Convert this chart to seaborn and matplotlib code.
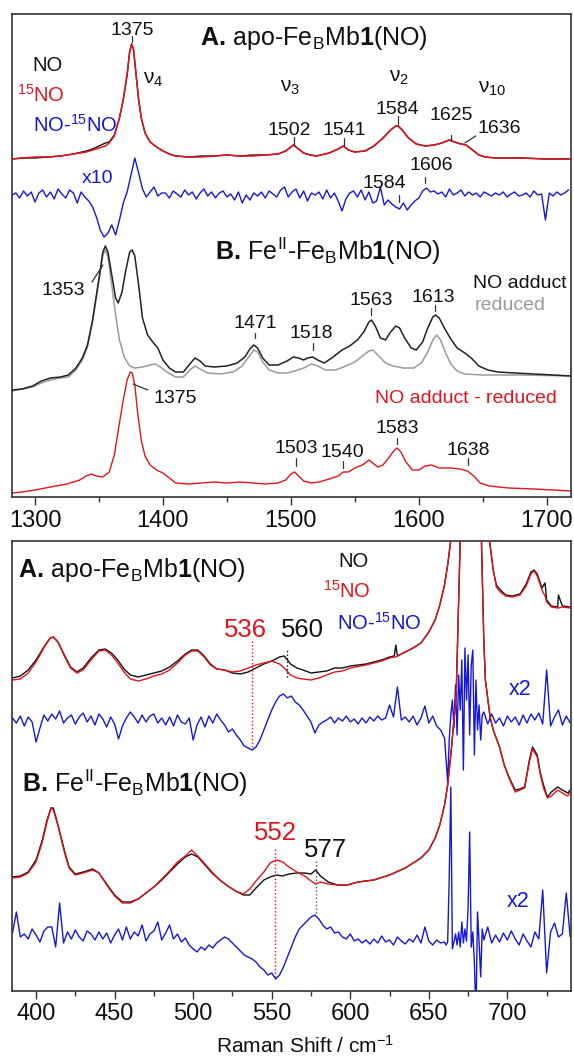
import numpy as np
import matplotlib
matplotlib.use("Agg")
import matplotlib.pyplot as plt
import seaborn as sns

sns.set_theme(style="white")
plt.rcParams["font.family"] = ["Liberation Sans", "DejaVu Sans"]
plt.rcParams["mathtext.fontset"] = "custom"
plt.rcParams["mathtext.rm"] = "Liberation Sans"
plt.rcParams["mathtext.it"] = "Liberation Sans:italic"
plt.rcParams["mathtext.bf"] = "Liberation Sans:bold"

RED = "#e2141e"
BLUE = "#1717d8"
GRAY = "#9a9a9a"
BLACK = "#111111"

# ---------------- top panel: high-frequency region (cm-1) ----------------
# A. apo-FeBMb1(NO): NO (black) and 15NO (red), relative intensity
topA_x = [1282, 1290, 1300, 1310, 1320, 1330, 1340, 1345, 1350, 1355,
          1358, 1362, 1366, 1369, 1372, 1374, 1375.5, 1377, 1379, 1381,
          1383, 1386, 1390, 1395, 1400, 1405, 1410, 1420, 1430, 1440,
          1450, 1460, 1470, 1480, 1490, 1496, 1500, 1502, 1505, 1510,
          1515, 1520, 1530, 1537, 1541, 1545, 1550, 1558, 1565, 1572,
          1578, 1582, 1584, 1587, 1592, 1598, 1605, 1612, 1618, 1624,
          1628, 1633, 1637, 1642, 1647, 1652, 1660, 1680, 1700, 1719]
topA_NO = [-1, 0, 0, 1, 2, 4, 7, 9, 12, 15,
           16, 23, 40, 58, 83, 106, 114, 108, 83, 58,
           40, 25, 16, 11, 7, 4, 2, 1, 2, 2,
           3, 2, 3, 3, 4, 7, 11, 13, 10, 5,
           3, 2, 5, 9, 12, 8, 6, 7, 12, 20,
           28, 32, 32, 28, 20, 14, 12, 13, 15, 18,
           16, 14, 13, 8, 3, 1, 0, 0, -1, -1]
topA_15NO = [-1, 0, 1, 1, 2, 4, 6, 8, 10, 12,
             15, 22, 40, 59, 84, 107, 114, 109, 84, 59,
             41, 25, 16, 11, 7, 4, 2, 1, 1, 2,
             3, 2, 2, 3, 4, 7, 11, 13, 10, 5,
             3, 2, 5, 9, 12, 8, 6, 7, 12, 20,
             28, 32, 32, 28, 20, 14, 12, 13, 15, 18,
             16, 14, 13, 8, 3, 1, 0, 0, -1, -1]
# NO - 15NO difference (x10), sampled every 3 cm-1 from 1282
topA_diff = [0, 2, -3, 4, -1, 3, -7, 2, 5, -2,
             3, -4, 6, 1, -3, 5, 2, -8, 3, -2,
             -6, -12, -22, -35, -42, -38, -30, -40, -25, -8,
             3, 20, 37, 22, 6, -2, 3, 8, -1, 2,
             2, -3, 4, 1, -2, 5, 0, 3, -4, 2,
             6, -1, 3, -3, 2, 4, -2, 1, -5, 3,
             -8, 0, -5, 2, -1, 3, -3, 4, 1, -2,
             5, 8, -2, 3, 6, -3, 4, -6, 2, 0,
             3, -4, 5, -3, 2, -6, -16, -4, 2, 4,
             -2, 5, -5, 3, -8, -6, 8, -10, -5, -9,
             -12, -14, -8, -15, -10, -6, -3, 4, 7, 3,
             4, 1, 3, -2, 6, 0, 2, 5, -1, 3,
             0, 2, -2, 3, 1, -1, 2, 0, 3, -2,
             1, 3, -1, 0, 2, -2, 4, 0, 1, -25,
             2, -1, 3, 0, 2, 5]

# B. FeII-FeBMb1(NO): NO adduct (black) and reduced (gray)
topB_adduct_x = [1282, 1290, 1298, 1305, 1312, 1320, 1326, 1332, 1337, 1341,
                 1345, 1348, 1351, 1353, 1355, 1357, 1360, 1363, 1365, 1368,
                 1371, 1374, 1376, 1378, 1381, 1384, 1388, 1392, 1396, 1400,
                 1405, 1410, 1416, 1421, 1425, 1429, 1433, 1440, 1450, 1458,
                 1464, 1468, 1471, 1474, 1478, 1483, 1490, 1497, 1502, 1506,
                 1510, 1513, 1517, 1521, 1526, 1532, 1540, 1546, 1552, 1557,
                 1561, 1563, 1566, 1570, 1574, 1578, 1582, 1585, 1589, 1594,
                 1598, 1603, 1607, 1611, 1613, 1616, 1620, 1625, 1630, 1636,
                 1641, 1647, 1654, 1662, 1675, 1690, 1705, 1719]
topB_adduct = [0, 1, 4, 9, 12, 13, 15, 22, 32, 45,
               70, 95, 120, 138, 144, 138, 115, 92, 87, 98,
               120, 138, 140, 134, 105, 72, 55, 48, 42, 30,
               22, 18, 18, 26, 32, 29, 24, 23, 24, 27,
               33, 41, 45, 42, 32, 25, 25, 29, 33, 32,
               30, 32, 33, 30, 27, 32, 40, 44, 50, 58,
               68, 70, 64, 52, 50, 58, 64, 62, 52, 42,
               40, 48, 62, 73, 75, 72, 62, 51, 42, 37,
               32, 24, 20, 18, 17, 16, 15, 14]
topB_reduced_x = [1282, 1298, 1305, 1312, 1320, 1326, 1332, 1337, 1341, 1345,
                  1348, 1351, 1353, 1355, 1357, 1360, 1363, 1366, 1370, 1374,
                  1378, 1384, 1390, 1394, 1398, 1403, 1410, 1416, 1421, 1425,
                  1429, 1435, 1445, 1455, 1462, 1467, 1471, 1474, 1478, 1483,
                  1490, 1497, 1503, 1510, 1516, 1521, 1527, 1535, 1543, 1550,
                  1556, 1561, 1564, 1568, 1574, 1580, 1588, 1596, 1602, 1607,
                  1611, 1614, 1617, 1621, 1625, 1630, 1636, 1650, 1680, 1719]
topB_reduced = [-1, 3, 7, 10, 12, 13, 20, 30, 43, 68,
                93, 118, 135, 140, 133, 105, 75, 50, 32, 24,
                22, 23, 25, 26, 23, 18, 13, 13, 20, 24,
                21, 17, 16, 18, 24, 33, 40, 38, 28, 20,
                17, 17, 19, 22, 26, 24, 20, 20, 24, 28,
                34, 39, 40, 35, 27, 24, 22, 22, 27, 38,
                50, 55, 50, 37, 26, 19, 16, 15, 15, 14]
# NO adduct - reduced (red)
topB_diff_x = [1282, 1290, 1300, 1312, 1325, 1335, 1340, 1344, 1348, 1353,
               1358, 1362, 1366, 1369, 1372, 1374.5, 1376, 1378, 1380, 1383,
               1386, 1390, 1395, 1400, 1405, 1410, 1420, 1430, 1440, 1450,
               1460, 1470, 1480, 1490, 1496, 1500, 1503, 1506, 1510, 1516,
               1522, 1530, 1537, 1541, 1545, 1550, 1556, 1561, 1564, 1568,
               1572, 1577, 1581, 1583, 1586, 1590, 1595, 1600, 1605, 1610,
               1616, 1625, 1632, 1638, 1643, 1648, 1655, 1670, 1690, 1719]
topB_diff = [0, 1, 3, 6, 9, 13, 17, 19, 17, 16,
             21, 38, 70, 93, 113, 121, 120, 108, 83, 53,
             37, 28, 23, 20, 15, 10, 9, 10, 11, 10,
             11, 10, 9, 10, 13, 19, 21, 17, 12, 10,
             11, 14, 17, 21, 21, 25, 28, 33, 30, 26,
             28, 36, 43, 45, 41, 31, 23, 23, 27, 28,
             25, 25, 24, 22, 17, 10, 7, 5, 4, 2]

# ---------------- bottom panel: low-frequency region (cm-1) ----------------
botA_x = [385, 390, 395, 400, 405, 409, 411, 414, 418, 422,
          426, 430, 435, 440, 444, 448, 452, 456, 460, 465,
          470, 475, 480, 485, 490, 495, 499, 503, 507, 511,
          515, 520, 525, 530, 535, 540, 545, 550, 555, 558,
          562, 566, 570, 575, 580, 585, 590, 595, 600, 610,
          620, 625, 628, 629, 630, 635, 640, 645, 650, 654,
          657, 660, 662, 664, 666, 669, 673, 677, 681, 685,
          687, 689, 691, 693, 695.5, 699, 703, 708, 712, 715,
          717, 719, 722, 724, 725, 728, 732, 732.5, 735, 740]
botA_NO = [0, 2, 8, 18, 31, 40, 41, 36, 23, 11,
           6, 10, 20, 28, 29, 25, 18, 9, 3, 1,
           3, 5, 7, 11, 17, 24, 28, 28, 22, 14,
           9, 8, 5, 4, 6, 10, 14, 17, 21, 22,
           14, 10, 8, 5, 6, 7, 10, 10, 12, 14,
           18, 21, 22, 33, 22, 26, 30, 35, 46, 58,
           73, 93, 113, 138, 168, 218, 278, 278, 228, 178,
           153, 133, 108, 93, 88, 83, 82, 84, 94, 106,
           108, 104, 90, 95, 78, 72, 71, 83, 72, 71]
botA_15NO = [-2, -1, 5, 16, 30, 40, 41, 36, 22, 10,
             5, 8, 18, 27, 28, 23, 15, 6, -1, -3,
             -1, 2, 4, 8, 15, 23, 27, 27, 21, 13,
             9, 8, 6, 7, 10, 13, 15, 17, 14, 10,
             3, 0, -1, -2, 0, 3, 6, 7, 10, 13,
             17, 20, 21, 21, 22, 26, 30, 35, 46, 58,
             73, 93, 113, 138, 168, 218, 278, 278, 228, 178,
             153, 133, 108, 91, 86, 82, 81, 83, 92, 104,
             107, 102, 88, 82, 76, 71, 70, 70, 71, 70]
botB_x = [385, 390, 395, 400, 404, 407, 409.5, 411, 414, 418,
          421, 425, 430, 436, 440, 445, 450, 455, 460, 465,
          470, 475, 480, 485, 490, 495, 499, 503, 507, 512,
          517, 522, 527, 532, 536, 540, 545, 549, 553, 557,
          561, 566, 571, 575, 578, 581, 586, 592, 598, 605,
          615, 625, 635, 645, 650, 654, 657, 660, 662, 664,
          666, 667.5, 669, 671, 675, 679, 682, 683.5, 685, 686,
          689, 691, 695, 698, 701, 705, 708, 711, 714, 716,
          719, 721, 723, 725.5, 728, 732, 735, 738.5, 740]
botB_NO = [0, 1, 5, 17, 37, 57, 69, 69, 52, 27,
           10, 3, 5, 8, 4, -7, -18, -25, -25, -22,
           -16, -10, -3, 5, 13, 20, 23, 20, 13, 4,
           -3, -9, -14, -18, -18, -11, -3, 0, 2, 1,
           3, 4, 4, 3, 7, 1, -5, -8, -8, -5,
           -3, 2, 9, 19, 27, 39, 52, 72, 92, 122,
           157, 187, 277, 397, 497, 497, 397, 336, 237, 197,
           160, 147, 130, 112, 100, 87, 88, 90, 117, 130,
           122, 104, 92, 80, 85, 90, 87, 84, 87]
botB_15NO = [-1, 0, 4, 15, 35, 55, 69, 67, 51, 25,
             9, 2, 4, 7, 4, -8, -19, -26, -26, -22,
             -16, -10, -2, 6, 15, 21, 27, 21, 14, 5,
             -3, -9, -14, -17, -12, -4, 5, 14, 17, 15,
             10, 5, 1, -4, -7, -5, -7, -8, -8, -5,
             -3, 2, 9, 19, 27, 39, 52, 72, 92, 122,
             157, 187, 277, 397, 497, 497, 397, 336, 237, 197,
             160, 147, 130, 112, 99, 85, 87, 89, 115, 128,
             120, 102, 89, 79, 81, 87, 84, 81, 85]
# NO - 15NO differences (x2): 385-660 every 2.5, 661-684 every 1, 685-740 every 2.5
botA_diff = [2, -3, 4, -6, 3, -2, -22, -8, 5, -1,
             6, 1, 9, -3, 2, 5, -4, 3, 7, -2,
             4, -5, 6, 1, -7, 3, -4, -19, -6, 2,
             8, 3, -3, 5, -2, 4, 6, -3, 2, -5,
             3, -6, 5, -2, -4, 2, -20, -5, 3, -7,
             4, -3, 6, 0, -5, -12, -9, -15, -20, -26,
             -28, -30, -27, -20, -10, 0, 10, 18, 24, 26,
             22, 24, 18, 15, 10, 4, -2, -13, -5, -2,
             0, 3, -3, 2, -1, 4, -2, 1, -4, 2,
             -3, 3, -1, 4, 0, 2, 15, 3, 33, 0,
             3, -2, 4, -5, 2, 14, -3, 4, -6, -10,
             -18,
             -40, -62, -20, 5, 20, -8, 35, -15, 45, 10, 60, -50,
             72, 20, 65, -15, 55, 70, -35, 40, -10, 15, -20, 5,
             8, -4, 6, -3, 2, -6, 4, -2, 3, -5, 5, -3, 6, 0, 7, -4,
             50, -6, 3, 10, -5, 4, -3]
botB_diff = [4, 25, 0, 3, -2, 8, 2, -5, 6, 10,
             10, -10, 34, -6, 5, -2, 7, 0, -4, 6,
             3, -3, 5, -2, 4, -6, 2, 8, -3, 10,
             -2, 5, 1, 12, -4, 3, 6, 15, -3, 4,
             12, -2, 3, -5, -1, -8, -12, -15, -10, -13,
             -8, -11, -6, -3, 0, -2, -6, -10, -14, -18,
             -20, -22, -25, -30, -33, -38, -36, -42, -38, -30,
             -20, -10, 0, 8, 12, 16, 20, 22, 18, 12,
             8, 10, 4, 5, 0, -2, 3, -4, -2, -6,
             -3, -7, -2, -6, 1, -5, -3, -8, 0, -4,
             -7, -2, -5, 2, -6, 10, -4, -8, -3, -6,
             -5,
             -8, -5, 60, 150, -12, -5, 3, -8, 5, -10, 15, -6,
             8, -4, 30, 105, -10, 5, -25, -80, 25, -5, -40, 8,
             -3, 10, -6, 2, -5, 4, -3, 6, -2, -8, 3, -4, -10, 5, -2,
             47, -36, 5, 14, 0, 3, 44, 0]

top_ticks = [1300, 1400, 1500, 1600, 1700]
bot_ticks = [400, 450, 500, 550, 600, 650, 700]

# wavenumber grids of the sampled difference spectra
topA_diff_x = np.arange(1282, 1718, 3)
bot_diff_x = np.concatenate([np.arange(385, 660.1, 2.5),
                             np.arange(661, 684.1, 1),
                             np.arange(685, 740.1, 2.5)])

# vertical stacking offsets
OFF = dict(topA=339, topAd=302, topB=107, topBd=4,
           botA=313, botAd=271, botB=114, botBd=54)

fig = plt.figure(figsize=(5.74, 10.61), dpi=100)
ax1 = fig.add_axes([12 / 574, 1 - 497 / 1061, 559 / 574, 483 / 1061])
ax2 = fig.add_axes([12 / 574, 1 - 991 / 1061, 559 / 574, 450 / 1061])


def spec(ax, x, y, off, color, lw=1.0, z=2):
    sns.lineplot(x=np.asarray(x, float), y=np.asarray(y, float) + off, ax=ax,
                 color=color, lw=lw, estimator=None, sort=False,
                 legend=False, zorder=z)


# top panel
spec(ax1, topA_x, topA_NO, OFF["topA"], BLACK)
spec(ax1, topA_x, topA_15NO, OFF["topA"], RED, lw=1.1, z=3)
spec(ax1, topA_diff_x, topA_diff, OFF["topAd"], BLUE, lw=1.0)
spec(ax1, topB_reduced_x, topB_reduced, OFF["topB"], GRAY, lw=1.1)
spec(ax1, topB_adduct_x, topB_adduct, OFF["topB"], "#222222", lw=1.1, z=3)
spec(ax1, topB_diff_x, topB_diff, OFF["topBd"], RED)

# bottom panel
spec(ax2, botA_x, botA_NO, OFF["botA"], BLACK)
spec(ax2, botA_x, botA_15NO, OFF["botA"], RED, z=3)
spec(ax2, bot_diff_x, botA_diff, OFF["botAd"], BLUE, lw=1.0)
spec(ax2, botB_x, botB_NO, OFF["botB"], BLACK)
spec(ax2, botB_x, botB_15NO, OFF["botB"], RED, z=3)
spec(ax2, bot_diff_x, botB_diff, OFF["botBd"], BLUE, lw=1.0)

ax1.set_xlim(1282, 1719)
ax1.set_ylim(0, 483)
ax2.set_xlim(384.7, 740.5)
ax2.set_ylim(0, 450)

for ax, major, minor in [(ax1, top_ticks, [1350, 1450, 1550, 1650]),
                         (ax2, bot_ticks, [425, 475, 525, 575, 625, 675, 725])]:
    ax.set_yticks([])
    ax.set_ylabel("")
    ax.set_xlabel("")
    ax.set_xticks(major)
    ax.set_xticks(minor, minor=True)
    ax.tick_params(axis="x", which="both", bottom=True, top=False,
                   direction="out", color="#333333", width=1.0)
    ax.tick_params(axis="x", which="major", length=6, labelsize=17, pad=3,
                   labelcolor="#111111")
    ax.tick_params(axis="x", which="minor", length=3.5)
    for s in ax.spines.values():
        s.set_linewidth(1.2)
        s.set_color("#333333")
        s.set_visible(True)

ax2.set_xlabel("Raman Shift / cm$^{-1}$", fontsize=15, color="#111111")
ax2.xaxis.set_label_coords(0.524, -0.122)
ax2.xaxis.label.set_va("center")


def T(ax, x, y, s, size=14, color="#111111", ha="center", va="baseline"):
    ax.text(x, y, s, fontsize=size, color=color, ha=ha, va=va, zorder=5)


def L(ax, xs, ys, color="#333333", lw=0.9, ls="-"):
    ax.plot(xs, ys, color=color, lw=lw, ls=ls, zorder=4)


TITLE_A = r"$\mathbf{A.}\,$apo-Fe$_{\mathrm{B}}$Mb$\mathbf{1}$(NO)"
TITLE_B = r"$\mathbf{B.}\,$Fe$^{\mathrm{II}}$-Fe$_{\mathrm{B}}$Mb$\mathbf{1}$(NO)"

# ---- top panel annotations
T(ax1, 1428.9, 452, TITLE_A, size=18, ha="left")
T(ax1, 1297.7, 432, "NO", size=14.5, ha="left", va="center")
T(ax1, 1286.0, 402, "$^{15}$NO", size=14.5, color=RED, ha="left", va="center")
T(ax1, 1298.4, 372, "NO-$^{15}$NO", size=14.5, color=BLUE, ha="left", va="center")
T(ax1, 1336.7, 319, "x10", size=14, color=BLUE, ha="left", va="center")
T(ax1, 1375.8, 462, "1375")
L(ax1, [1375.8, 1375.8], [455, 461])
T(ax1, 1384.4, 413, r"ν$_4$", size=15, ha="left")
T(ax1, 1491.4, 405, r"ν$_3$", size=15, ha="left")
T(ax1, 1577.0, 415, r"ν$_2$", size=15, ha="left")
T(ax1, 1646.0, 404, r"ν$_{10}$", size=15, ha="left")
T(ax1, 1499.0, 362, "1502")
T(ax1, 1541.4, 362, "1541")
T(ax1, 1583.6, 383, "1584")
T(ax1, 1625.0, 377, "1625")
L(ax1, [1502.3, 1502.3], [352, 360])
L(ax1, [1541.4, 1541.4], [351, 359])
L(ax1, [1584.0, 1584.0], [373, 381])
L(ax1, [1625.0, 1625.0], [356, 362])
T(ax1, 1663.0, 364, "1636")
L(ax1, [1636.0, 1644.5], [354, 361])
T(ax1, 1610.0, 327, "1606")
L(ax1, [1605.2, 1605.2], [314, 320])
T(ax1, 1573.0, 309, "1584")
L(ax1, [1584.4, 1584.4], [295, 302])

T(ax1, 1440.6, 237, TITLE_B, size=18, ha="left")
T(ax1, 1321.9, 202, "1353")
L(ax1, [1344.5, 1353.1], [215, 232])
T(ax1, 1409.4, 94, "1375")
L(ax1, [1376.6, 1388.3], [113, 107])
T(ax1, 1471.9, 169, "1471")
L(ax1, [1471.9, 1471.9], [159, 164])
T(ax1, 1515.6, 159, "1518")
L(ax1, [1517.0, 1517.0], [147, 154])
T(ax1, 1562.5, 192, "1563")
L(ax1, [1562.5, 1562.5], [182, 189])
T(ax1, 1611.7, 195, "1613")
L(ax1, [1612.5, 1612.5], [186, 192])
T(ax1, 1715.6, 209, "NO adduct", size=14, ha="right")
T(ax1, 1643.8, 187, "reduced", size=14, color=GRAY, ha="left")
T(ax1, 1565.6, 94, "NO adduct - reduced", size=14, color=RED, ha="left")
T(ax1, 1503.9, 44, "1503")
L(ax1, [1504.0, 1504.0], [31, 39])
T(ax1, 1540.6, 40, "1540")
L(ax1, [1540.6, 1540.6], [29, 36])
T(ax1, 1582.8, 64, "1583")
L(ax1, [1582.8, 1582.8], [53, 59])
T(ax1, 1638.3, 42, "1638")
L(ax1, [1638.3, 1638.3], [32, 39])

# ---- bottom panel annotations
T(ax2, 388.5, 414, TITLE_A, size=18, ha="left")
T(ax2, 592.4, 424, "NO", size=14.5, ha="left")
T(ax2, 582.8, 393, "$^{15}$NO", size=14.5, color=RED, ha="left")
T(ax2, 591.7, 361, "NO-$^{15}$NO", size=14.5, color=BLUE, ha="left")
T(ax2, 533.0, 354, "536", size=18.5, color=RED)
T(ax2, 569.4, 354, "560", size=18.5)
L(ax2, [537.5, 537.5], [244, 351], color=RED, lw=1.0, ls=(0, (1, 1.6)))
L(ax2, [560.0, 560.0], [314, 341], color=BLACK, lw=1.0, ls=(0, (1, 1.6)))
T(ax2, 708.3, 296, "x2", size=15.5, color=BLUE)

T(ax2, 391.0, 199, TITLE_B, size=18, ha="left")
T(ax2, 552.2, 151, "552", size=18.5, color=RED)
T(ax2, 584.0, 134, "577", size=18.5)
L(ax2, [552.0, 552.0], [14, 142], color=RED, lw=1.0, ls=(0, (1, 1.6)))
L(ax2, [578.3, 578.3], [78, 131], color="#555555", lw=1.0, ls=(0, (1, 1.6)))
T(ax2, 707.0, 84, "x2", size=15.5, color=BLUE)

fig.savefig("out.png", dpi=100)
